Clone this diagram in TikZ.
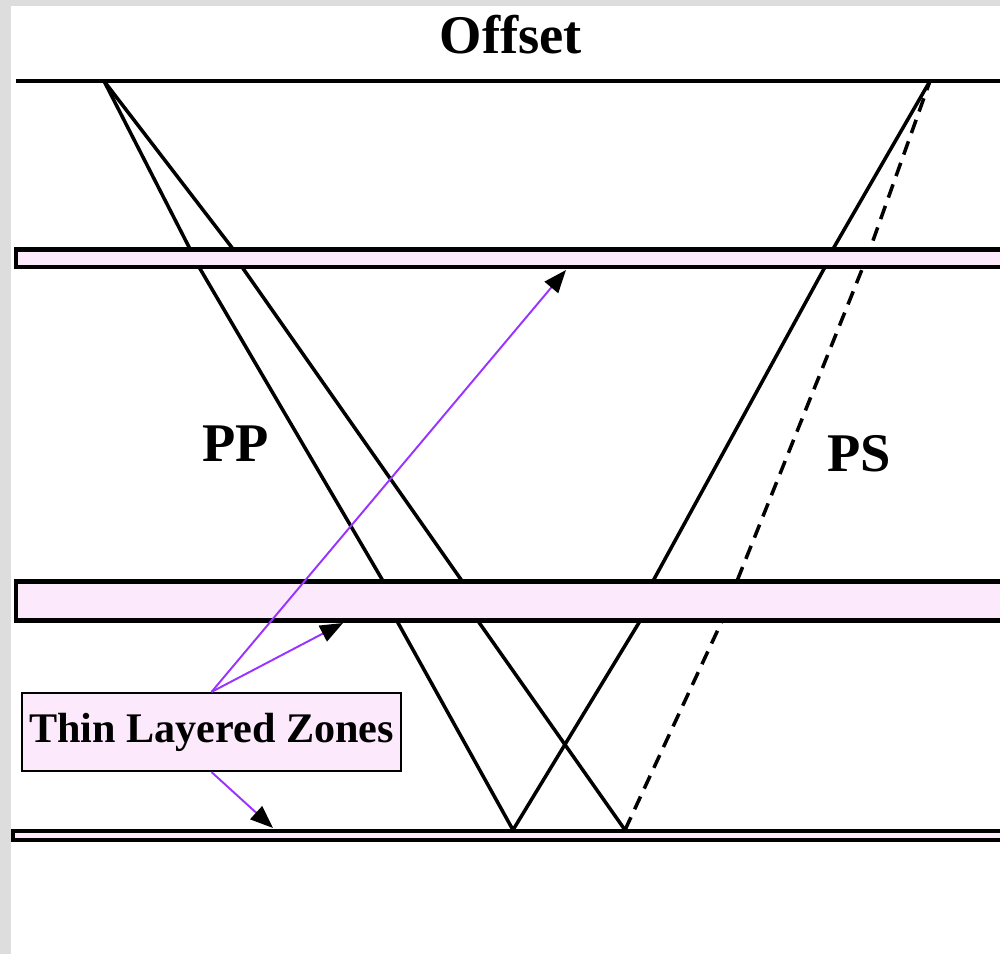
\documentclass[tikz,border=0pt]{standalone}
\usepackage{fontspec}
\setmainfont{Liberation Serif}
\usetikzlibrary{arrows.meta}
\definecolor{layerpink}{RGB}{252,234,252}
\definecolor{zoneviolet}{RGB}{153,51,255}
\definecolor{framegray}{RGB}{221,221,221}
\begin{document}
\begin{tikzpicture}[every node/.style={font=\bfseries},
  ray/.style={line width=2pt},
  layer/.style={draw,line width=2.4pt,fill=layerpink},
  pointer/.style={zoneviolet,line width=1.1pt,-{Triangle[length=13pt,width=10pt,black]}}]
\fill[framegray] (0,0) rectangle (20,19.08);
\fill[white] (0.22,0) rectangle (20,18.96);
\useasboundingbox (0,0) rectangle (20,19.08);
\clip (0,0) rectangle (20,19.08);
\coordinate (src) at (2.08,17.46);
\coordinate (rcv) at (18.6,17.46);
\coordinate (ppbot) at (10.26,2.48);
\coordinate (psbot) at (12.5,2.48);
\draw[ray] (src) -- (3.8,14.1) -- (3.98,13.74) -- (7.66,7.46) -- (7.94,6.66) -- (ppbot);
\draw[ray] (src) -- (4.66,14.1) -- (4.84,13.74) -- (9.24,7.46) -- (9.56,6.66) -- (psbot);
\draw[ray] (ppbot) -- (12.8,6.66) -- (13.06,7.46) -- (16.5,13.74) -- (16.66,14.1) -- (rcv);
\draw[ray,dash pattern=on 8pt off 5pt] (psbot) -- (14.44,6.66) -- (14.74,7.46) -- (17.26,13.74) -- (17.4,14.1) -- (rcv);
\draw[line width=2.4pt] (0.32,17.46) -- (20.5,17.46);
\draw[layer] (0.32,13.74) rectangle (20.5,14.09);
\draw[layer] (0.32,6.67) rectangle (20.5,7.45);
\draw[layer] (0.26,2.28) rectangle (20.5,2.46);
\node[anchor=base,font=\fontsize{31}{36}\selectfont\bfseries] (offset) at (10.22,18.0) {Offset};
\node[anchor=base,font=\fontsize{31}{36}\selectfont\bfseries] (pp) at (4.71,9.84) {PP};
\node[anchor=base,font=\fontsize{31}{36}\selectfont\bfseries] (ps) at (17.18,9.64) {PS};
\node[draw,line width=1.2pt,fill=layerpink,minimum width=7.58cm,minimum height=1.56cm,font=\fontsize{24}{28}\selectfont\bfseries] (tlz) at (4.23,4.44) {Thin Layered Zones};
\coordinate (tip1) at (11.32,13.68);
\coordinate (tip2) at (6.86,6.62);
\coordinate (tip3) at (5.46,2.52);
\draw[pointer] (tlz.north) -- (tip1);
\draw[pointer] (tlz.north) -- (tip2);
\draw[pointer] (tlz.south) -- (tip3);
\end{tikzpicture}
\end{document}
